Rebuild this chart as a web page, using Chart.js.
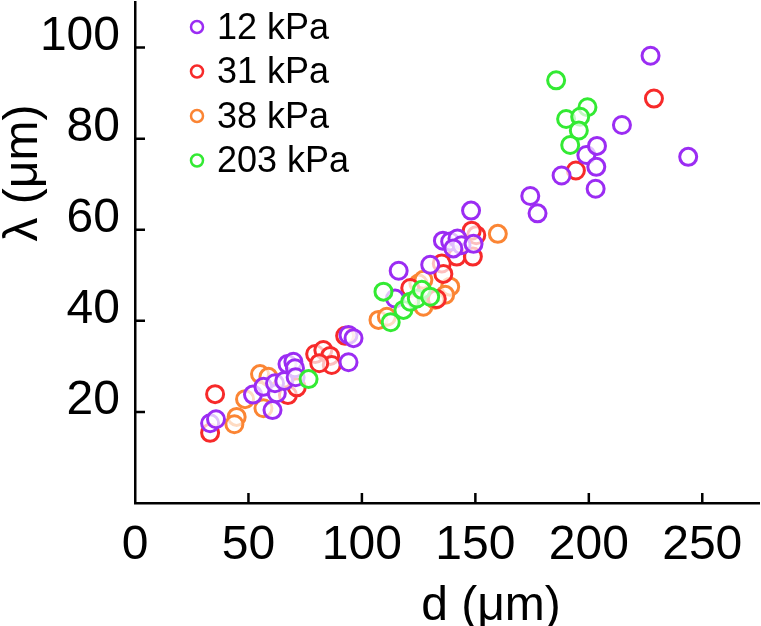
<!DOCTYPE html>
<html>
<head>
<meta charset="utf-8">
<script src="https://cdn.jsdelivr.net/npm/chart.js@4.4.1/dist/chart.umd.min.js"></script>
<style>
    html, body { margin: 0; padding: 0; background: #fff; }
    #wrap { width: 761px; height: 626px; }
</style>
</head>
<body>
<div id="wrap"><canvas id="lambdaChart"></canvas></div>
<script>
const xTicks = [0, 50, 100, 150, 200, 250];
const yTicks = [20, 40, 60, 80, 100];

const seriesNames = ['12 kPa', '31 kPa', '38 kPa', '203 kPa'];
const seriesColors = ['#9b2cf3', '#f72a2a', '#fb8534', '#33ea33'];

// [d, lambda] pairs
const kpa12 = [
    [33.1, 17.5], [35.7, 18.4], [52.0, 23.8], [56.6, 25.5], [60.6, 20.4],
    [62.5, 24.1], [61.7, 26.3], [65.8, 26.8], [67.2, 30.5], [69.8, 31.0],
    [70.5, 29.6], [70.8, 27.6], [94.1, 30.9], [94.1, 36.9], [96.3, 36.2],
    [116.2, 51.0], [114.6, 44.9], [130.1, 52.3], [135.7, 57.6], [138.9, 57.4],
    [142.1, 58.1], [143.9, 56.6], [149.2, 56.9], [140.3, 55.9], [148.1, 64.2],
    [174.2, 67.4], [177.4, 63.6], [188.0, 71.9], [198.9, 76.4], [203.6, 78.4],
    [203.3, 73.8], [203.0, 69.0], [214.6, 83.0], [227.2, 98.2], [243.8, 76.0]
];
const kpa31 = [
    [35.3, 23.9], [33.1, 15.4], [67.4, 23.7], [71.3, 25.4], [79.4, 32.7],
    [83.0, 33.6], [86.0, 32.3], [86.7, 30.3], [81.2, 30.7], [92.6, 36.7],
    [121.3, 47.2], [133.0, 44.8], [135.2, 52.6], [135.9, 50.3], [141.8, 54.1],
    [148.9, 54.1], [150.4, 58.8], [148.4, 59.8], [194.3, 73.0], [228.7, 88.8]
];
const kpa38 = [
    [44.8, 18.9], [43.8, 17.3], [48.5, 22.8], [55.1, 28.3], [58.8, 27.7],
    [56.6, 20.8], [107.3, 40.2], [111.0, 40.9], [124.9, 48.2], [127.1, 49.0],
    [138.9, 47.5], [136.7, 45.7], [127.1, 43.1], [132.3, 44.6], [159.9, 59.1]
];
const kpa203 = [
    [76.5, 27.2], [109.5, 46.4], [112.7, 39.7], [118.3, 42.4], [121.3, 44.2],
    [124.2, 44.9], [126.4, 46.8], [130.1, 45.3], [185.6, 92.8], [199.4, 86.9],
    [190.0, 84.3], [196.2, 84.8], [195.6, 81.8], [191.8, 78.6]
];

const fontFamily = '"Liberation Sans", Arial, sans-serif';

function toPoints(pairs) {
    return pairs.map(p => ({ x: p[0], y: p[1] }));
}

function makeDataset(pairs, i, order) {
    return {
        label: seriesNames[i],
        data: toPoints(pairs),
        borderColor: seriesColors[i],
        backgroundColor: 'rgba(255, 255, 255, 0.7)',
        borderWidth: 3,
        pointRadius: 8.5,
        pointHoverRadius: 8.5,
        order: order
    };
}

// no extra room for the end labels, the plot runs right up to the edges
function clearPadding(scale) {
    scale.paddingTop = 0;
    scale.paddingBottom = 0;
    scale.paddingLeft = 0;
    scale.paddingRight = 0;
}

// inward tick marks and axis titles
const axisExtras = {
    id: 'axisExtras',
    beforeDatasetsDraw(chart) {
        const ctx = chart.ctx;
        const area = chart.chartArea;
        ctx.save();
        ctx.strokeStyle = '#000';
        ctx.lineWidth = 2.5;
        ctx.beginPath();
        xTicks.forEach(v => {
            if (v === 0) return;
            const px = chart.scales.x.getPixelForValue(v);
            ctx.moveTo(px, area.bottom);
            ctx.lineTo(px, area.bottom - 10);
        });
        yTicks.forEach(v => {
            const py = chart.scales.y.getPixelForValue(v);
            ctx.moveTo(area.left, py);
            ctx.lineTo(area.left + 10, py);
        });
        ctx.stroke();
        ctx.restore();
    },
    afterDraw(chart) {
        const ctx = chart.ctx;
        ctx.save();
        ctx.fillStyle = '#000';
        ctx.font = '48px ' + fontFamily;
        ctx.textAlign = 'center';
        ctx.textBaseline = 'alphabetic';
        ctx.fillText('d (μm)', 491, 620);
        ctx.translate(37, 173);
        ctx.rotate(-Math.PI / 2);
        ctx.fillText('λ (μm)', 0, 0);
        ctx.restore();
    }
};

const legendInside = {
    id: 'legendInside',
    afterDraw(chart) {
        const ctx = chart.ctx;
        ctx.save();
        ctx.font = '36px ' + fontFamily;
        ctx.textBaseline = 'middle';
        ctx.textAlign = 'left';
        seriesNames.forEach((name, i) => {
            const y = 27 + i * 44.5;
            ctx.beginPath();
            ctx.arc(197, y, 6, 0, Math.PI * 2);
            ctx.strokeStyle = seriesColors[i];
            ctx.lineWidth = 2.5;
            ctx.stroke();
            ctx.fillStyle = '#000';
            ctx.fillText(name, 217, y + 2);
        });
        ctx.restore();
    }
};

const ctx = document.getElementById('lambdaChart').getContext('2d');

new Chart(ctx, {
    type: 'scatter',
    data: {
        datasets: [
            makeDataset(kpa12, 0, 1),
            makeDataset(kpa31, 1, 2),
            makeDataset(kpa38, 2, 3),
            makeDataset(kpa203, 3, 0)
        ]
    },
    options: {
        responsive: true,
        maintainAspectRatio: false,
        animation: false,
        layout: { autoPadding: false, padding: { top: 2, right: 2, left: 0, bottom: 0 } },
        plugins: {
            legend: { display: false },
            tooltip: { enabled: false }
        },
        scales: {
            x: {
                type: 'linear',
                min: 0,
                max: 275,
                grid: { display: false, drawTicks: false },
                border: { display: true, color: '#000', width: 2.5 },
                ticks: {
                    color: '#000',
                    padding: 14,
                    maxRotation: 0,
                    font: { size: 48, family: fontFamily }
                },
                afterBuildTicks: scale => { scale.ticks = xTicks.map(v => ({ value: v })); },
                afterFit: scale => { scale.height = 123; clearPadding(scale); }
            },
            y: {
                type: 'linear',
                min: 0,
                max: 110,
                grid: { display: false, drawTicks: false },
                border: { display: true, color: '#000', width: 2.5 },
                ticks: {
                    color: '#000',
                    padding: 15,
                    labelOffset: -11,
                    font: { size: 48, family: fontFamily }
                },
                afterBuildTicks: scale => { scale.ticks = yTicks.map(v => ({ value: v })); },
                afterFit: scale => { scale.width = 135; clearPadding(scale); }
            }
        }
    },
    plugins: [axisExtras, legendInside]
});
</script>
</body>
</html>
